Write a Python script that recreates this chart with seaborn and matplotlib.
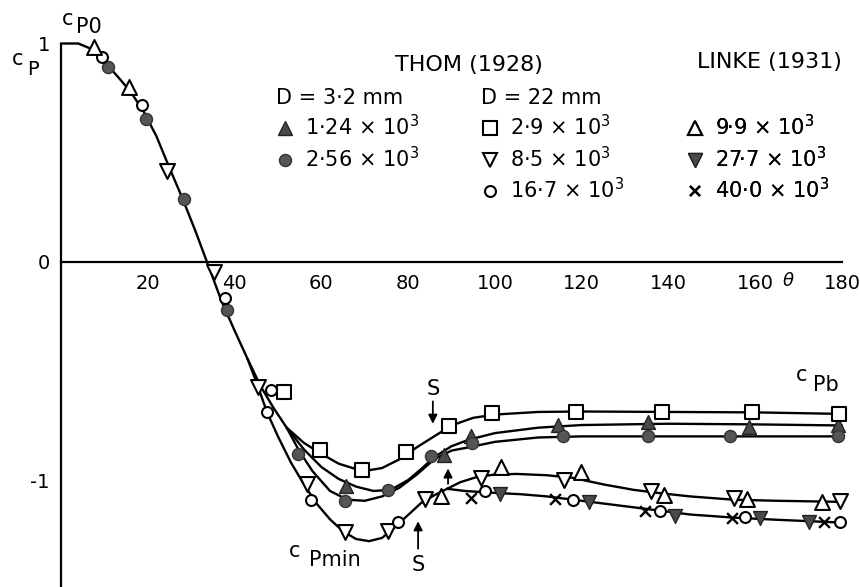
import matplotlib
matplotlib.use("Agg")
import matplotlib.pyplot as plt
import seaborn as sns
from matplotlib.lines import Line2D

# ---------------- curves (theta [deg], Cp) ----------------
common_theta = [0, 4, 7, 9, 11, 13, 16, 19, 22, 25, 28, 31, 34, 37, 40, 43]
common_cp = [1.0, 1.0, 0.975, 0.94, 0.895, 0.85, 0.78, 0.69, 0.575, 0.43, 0.29, 0.14, -0.02, -0.18, -0.315, -0.445]

low_theta = [43, 45, 47.5, 50, 53, 56, 59, 62, 65, 68, 71, 74, 77, 80, 83, 86, 89]
low_cp = [-0.445, -0.55, -0.69, -0.80, -0.92, -1.02, -1.11, -1.18, -1.235, -1.27, -1.28, -1.265, -1.215, -1.16, -1.105, -1.07, -1.04]

sq_theta = [43, 46, 49, 52, 56, 60, 64, 68, 71, 74, 78, 82, 86, 90, 95, 100, 110, 120, 140, 160, 180]
sq_cp = [-0.445, -0.57, -0.67, -0.76, -0.83, -0.88, -0.925, -0.95, -0.955, -0.945, -0.905, -0.85, -0.80, -0.75, -0.715, -0.70, -0.688, -0.686, -0.688, -0.69, -0.697]

ftri_theta = [52, 56, 60, 64, 68, 72, 76, 80, 83, 86, 90, 94, 100, 110, 120, 140, 160, 180]
ftri_cp = [-0.76, -0.86, -0.94, -0.995, -1.03, -1.05, -1.045, -1.0, -0.95, -0.895, -0.845, -0.815, -0.785, -0.76, -0.748, -0.742, -0.745, -0.75]

fcirc_theta = [52, 55, 58, 62, 66, 70, 74, 78, 82, 86, 90, 94, 100, 110, 120, 140, 160, 180]
fcirc_cp = [-0.76, -0.87, -0.96, -1.05, -1.09, -1.095, -1.075, -1.035, -0.975, -0.905, -0.865, -0.85, -0.825, -0.805, -0.80, -0.80, -0.80, -0.80]

lowup_theta = [89, 92, 96, 100, 105, 112, 118, 125, 132, 138, 145, 155, 165, 180]
lowup_cp = [-1.04, -1.01, -0.985, -0.975, -0.972, -0.978, -0.99, -1.02, -1.045, -1.06, -1.075, -1.09, -1.095, -1.10]

lowdn_theta = [89, 93, 97, 101, 106, 112, 118, 124, 130, 138, 145, 155, 165, 180]
lowdn_cp = [-1.04, -1.05, -1.055, -1.06, -1.065, -1.075, -1.09, -1.105, -1.12, -1.14, -1.158, -1.172, -1.182, -1.195]

# ---------------- measured points ----------------
thom124_theta = [65.7, 88.3, 94.5, 114.5, 135.2, 158.6, 179.0]
thom124_cp = [-1.027, -0.885, -0.80, -0.75, -0.735, -0.757, -0.75]
thom256_theta = [10.8, 19.5, 28.3, 38.2, 54.7, 65.5, 75.4, 85.2, 94.8, 115.6, 135.2, 154.3, 179.0]
thom256_cp = [0.894, 0.656, 0.289, -0.22, -0.88, -1.096, -1.046, -0.89, -0.83, -0.80, -0.80, -0.80, -0.80]
thom29_theta = [51.3, 59.8, 69.4, 79.6, 89.4, 99.4, 118.6, 138.6, 159.3, 179.3]
thom29_cp = [-0.597, -0.862, -0.954, -0.872, -0.752, -0.695, -0.688, -0.688, -0.69, -0.697]
thom85_theta = [24.4, 35.2, 45.5, 56.6, 65.5, 75.4, 83.9, 96.8, 116.0, 135.9, 155.2, 179.5]
thom85_cp = [0.417, -0.046, -0.573, -1.02, -1.24, -1.234, -1.087, -0.99, -1.0, -1.05, -1.08, -1.097]
thom167_theta = [9.4, 18.6, 37.7, 47.4, 48.5, 57.7, 77.7, 97.7, 118.0, 138.0, 157.7, 179.5]
thom167_cp = [0.936, 0.716, -0.165, -0.69, -0.587, -1.09, -1.19, -1.05, -1.09, -1.14, -1.17, -1.19]
linke99_theta = [7.6, 15.6, 87.6, 101.4, 119.8, 139.0, 158.2, 175.4]
linke99_cp = [0.986, 0.80, -1.073, -0.94, -0.965, -1.07, -1.087, -1.10]
linke277_theta = [101.1, 121.8, 141.4, 161.1, 172.4]
linke277_cp = [-1.065, -1.10, -1.165, -1.175, -1.19]
linke400_theta = [94.5, 113.8, 134.5, 154.7, 175.9]
linke400_cp = [-1.08, -1.087, -1.14, -1.175, -1.19]

# ---------------- labels ----------------
xtick_values = [20, 40, 60, 80, 100, 120, 140, 160, 180]
ytick_values = [1, 0, -1]
ytick_labels = ["1", "0", "-1"]
thom_small_labels = ["1\u00b724 \u00d7 10$^3$", "2\u00b756 \u00d7 10$^3$"]
thom_large_labels = ["2\u00b79 \u00d7 10$^3$", "8\u00b75 \u00d7 10$^3$", "16\u00b77 \u00d7 10$^3$"]
linke_labels = ["9\u00b79 \u00d7 10$^3$", "27\u00b77 \u00d7 10$^3$", "40\u00b70 \u00d7 10$^3$"]

sns.set_style("white")
plt.rcParams["font.family"] = ["DejaVu Sans"]
plt.rcParams["mathtext.fontset"] = "dejavusans"
plt.rcParams["text.color"] = "black"
plt.rcParams["xtick.color"] = "black"
plt.rcParams["ytick.color"] = "black"
plt.rcParams["axes.edgecolor"] = "black"

fig = plt.figure(figsize=(8.6, 5.87), dpi=100)
ax = fig.add_axes([61 / 860, 0.0, 781 / 860, 543.5 / 587])
ax.set_xlim(0, 180)
ax.set_ylim(-1.49, 1.0)

LW = 1.7
curves = [(common_theta, common_cp), (low_theta, low_cp), (sq_theta, sq_cp),
          (ftri_theta, ftri_cp), (fcirc_theta, fcirc_cp),
          (lowup_theta, lowup_cp), (lowdn_theta, lowdn_cp)]
for xs, ys in curves:
    sns.lineplot(x=xs, y=ys, color="black", linewidth=LW, sort=False,
                 estimator=None, ax=ax, zorder=2, clip_on=False)

styles = {
    "t124": dict(marker="^", s=100, color="#4a4a4a", edgecolor="#222222", linewidth=1.0),
    "t256": dict(marker="o", s=75, color="#555555", edgecolor="#333333", linewidth=1.0),
    "t29": dict(marker="s", s=100, color="white", edgecolor="black", linewidth=1.5),
    "t85": dict(marker="v", s=115, color="white", edgecolor="black", linewidth=1.5),
    "t167": dict(marker="o", s=62, color="white", edgecolor="black", linewidth=1.5),
    "l99": dict(marker="^", s=115, color="white", edgecolor="black", linewidth=1.5),
    "l277": dict(marker="v", s=100, color="#4a4a4a", edgecolor="#222222", linewidth=1.0),
    "l400": dict(marker="x", s=60, color="black", linewidth=1.7),
}
series = [("t124", thom124_theta, thom124_cp), ("t256", thom256_theta, thom256_cp),
          ("t29", thom29_theta, thom29_cp), ("t85", thom85_theta, thom85_cp),
          ("t167", thom167_theta, thom167_cp), ("l99", linke99_theta, linke99_cp),
          ("l277", linke277_theta, linke277_cp), ("l400", linke400_theta, linke400_cp)]
for key, xs, ys in series:
    sns.scatterplot(x=xs, y=ys, ax=ax, zorder=3, clip_on=False, legend=False, **styles[key])

# ---------------- axes ----------------
for side in ["top", "right"]:
    ax.spines[side].set_visible(False)
ax.spines["bottom"].set_position(("data", 0))
ax.spines["bottom"].set_linewidth(1.6)
ax.spines["left"].set_linewidth(1.6)
ax.set_xticks(xtick_values)
ax.set_xticklabels([str(v) for v in xtick_values])
ax.tick_params(axis="x", direction="in", length=13, width=1.5, pad=9, labelsize=14)
ax.set_yticks(ytick_values)
ax.set_yticklabels(ytick_labels)
ax.tick_params(axis="y", which="major", length=0, pad=8, labelsize=14)
ax.set_yticks([0.5, -0.5, -1], minor=True)
ax.tick_params(axis="y", which="minor", direction="in", length=14, width=1.5)
ax.set_xlabel("")
ax.set_ylabel("")

# ---------------- annotations ----------------
fs = 15
ax.text(167.5, -0.09, "\u03b8", fontsize=13, style="italic", ha="center", va="center")
ax.text(-9.9, 0.93, "c", fontsize=fs, ha="center", va="center")
ax.text(-6.5, 0.88, "P", fontsize=fs - 1, ha="center", va="center")
ax.text(1.6, 1.11, "c", fontsize=fs, ha="center", va="center")
ax.text(6.4, 1.075, "P0", fontsize=fs, ha="center", va="center")
ax.text(170.7, -0.517, "c", fontsize=fs, ha="center", va="center")
ax.text(176.3, -0.563, "Pb", fontsize=fs, ha="center", va="center")
ax.text(53.9, -1.327, "c", fontsize=fs, ha="center", va="center")
ax.text(63.1, -1.368, "Pmin", fontsize=fs, ha="center", va="center")
ax.text(85.7, -0.581, "S", fontsize=fs, ha="center", va="center")
ax.text(82.3, -1.391, "S", fontsize=fs, ha="center", va="center")
arrow = dict(arrowstyle="-|>", color="black", lw=1.3, mutation_scale=13)
ax.annotate("", xy=(85.7, -0.755), xytext=(85.7, -0.627), arrowprops=arrow)
ax.annotate("", xy=(82.3, -1.176), xytext=(82.3, -1.327), arrowprops=arrow)
ax.annotate("", xy=(89.2, -0.934), xytext=(89.2, -1.03), arrowprops=arrow)

# ---------------- legends ----------------
fig.text(469 / 860, 1 - 65 / 587, "THOM (1928)", fontsize=fs + 1, ha="center", va="center")
fig.text(769 / 860, 1 - 62 / 587, "LINKE (1931)", fontsize=fs + 1, ha="center", va="center")


def proxy(key):
    st = styles[key]
    mfc = st["color"] if st["marker"] != "x" else "black"
    return Line2D([], [], linestyle="none", marker=st["marker"], markersize=st["s"] ** 0.5,
                  markerfacecolor=mfc, markeredgecolor=st.get("edgecolor", "black"),
                  markeredgewidth=st["linewidth"])


common_leg = dict(loc="upper left", bbox_transform=fig.transFigure, frameon=False,
                  fontsize=fs, title_fontsize=fs, handlelength=0.9, handletextpad=0.5,
                  labelspacing=0.3, borderpad=0, borderaxespad=0, alignment="left")
top = 1 - 88 / 587
leg1 = ax.legend(handles=[proxy("t124"), proxy("t256")], labels=thom_small_labels,
                 title="D = 3\u00b72 mm", bbox_to_anchor=(276 / 860, top), **common_leg)
ax.add_artist(leg1)
leg2 = ax.legend(handles=[proxy("t29"), proxy("t85"), proxy("t167")], labels=thom_large_labels,
                 title="D = 22 mm", bbox_to_anchor=(481 / 860, top), **common_leg)
ax.add_artist(leg2)
leg3 = ax.legend(handles=[proxy("l99"), proxy("l277"), proxy("l400")], labels=linke_labels,
                 title=" ", bbox_to_anchor=(686 / 860, top), **common_leg)
ax.add_artist(leg3)

fig.savefig("out.png", dpi=100)
